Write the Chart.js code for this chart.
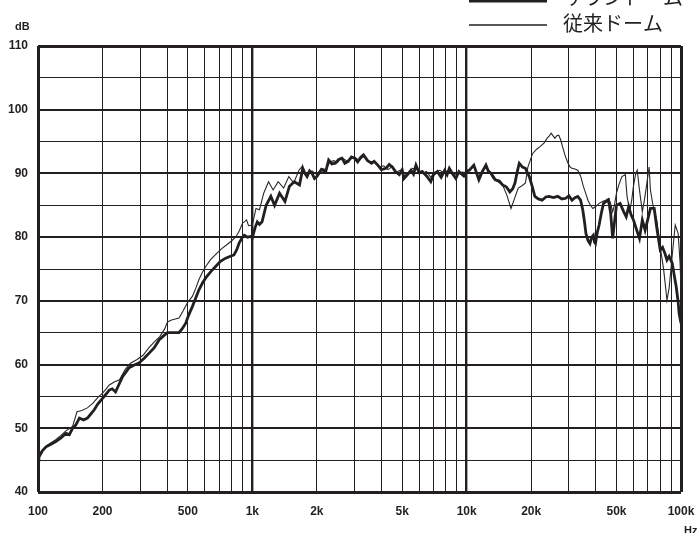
<!DOCTYPE html>
<html>
<head>
<meta charset="utf-8">
<script src="https://cdn.jsdelivr.net/npm/chart.js@4.4.1/dist/chart.umd.min.js"></script>
<style>
  html, body { margin: 0; padding: 0; background: #fff; }
  #wrap { width: 699px; height: 533px; position: relative; }
</style>
</head>
<body>
<div id="wrap"><canvas id="responseChart"></canvas></div>
<script>
// series names
const seriesNames = ['サウンドーム', '従来ドーム'];

// thick curve
const domeFreq = [100, 101, 105, 109, 115, 121, 128, 135, 140, 145, 150, 156, 163, 170, 176, 183, 190, 200, 207, 215, 222, 230, 238, 248, 257, 266, 280, 297, 313, 330, 348, 368, 385, 402, 430, 455, 470, 489, 505, 525, 545, 563, 585, 606, 640, 674, 710, 751, 790, 821, 845, 869, 900, 918, 950, 980, 1000, 1030, 1055, 1080, 1110, 1160, 1220, 1270, 1340, 1420, 1490, 1570, 1660, 1720, 1760, 1800, 1850, 1900, 1950, 2000, 2100, 2200, 2270, 2350, 2440, 2530, 2620, 2700, 2800, 2900, 3000, 3100, 3200, 3300, 3450, 3600, 3700, 3850, 4000, 4200, 4350, 4500, 4650, 4850, 5000, 5100, 5300, 5500, 5650, 5800, 6000, 6200, 6500, 6800, 7000, 7300, 7600, 7900, 8100, 8300, 8600, 8900, 9200, 9400, 9700, 10000, 10300, 10800, 11400, 11800, 12300, 12600, 13000, 13600, 14200, 14700, 15300, 15900, 16400, 16800, 17200, 17600, 18200, 18800, 19600, 20200, 20800, 21600, 22500, 23400, 24200, 25400, 26600, 27800, 29000, 30000, 31000, 32000, 33000, 34000, 34800, 35500, 36000, 36800, 37600, 38300, 39000, 39500, 39900, 40700, 41500, 42500, 43500, 44800, 45900, 47000, 48000, 49000, 50000, 52000, 54000, 55500, 57000, 58500, 60000, 62000, 64000, 66000, 68000, 70000, 72000, 75000, 77000, 80000, 82000, 84000, 86000, 88000, 91000, 93000, 95000, 97000, 98000, 100000];
const domeDb = [45.0, 45.5, 46.5, 47.1, 47.5, 47.9, 48.5, 49.2, 49.0, 50.0, 50.5, 51.6, 51.3, 51.6, 52.2, 52.9, 53.8, 54.7, 55.3, 56.0, 56.2, 55.7, 56.8, 58.1, 58.8, 59.5, 59.9, 60.3, 61.0, 61.8, 62.6, 63.9, 64.5, 65.0, 65.0, 65.0, 65.6, 66.5, 67.8, 69.1, 70.5, 71.7, 72.8, 73.6, 74.6, 75.4, 76.2, 76.7, 77.0, 77.2, 78.0, 79.1, 80.0, 80.3, 80.0, 80.1, 79.9, 81.5, 82.4, 82.0, 82.4, 85.0, 86.4, 85.0, 86.9, 85.6, 88.0, 88.7, 88.2, 90.8, 90.0, 89.5, 90.4, 90.0, 89.2, 89.5, 90.6, 90.3, 92.1, 91.5, 91.6, 92.2, 92.4, 91.6, 91.9, 92.6, 92.4, 91.8, 92.5, 92.9, 92.0, 91.6, 91.9, 91.3, 90.6, 90.8, 91.4, 91.0, 90.3, 89.8, 90.6, 89.2, 89.8, 90.5, 89.9, 91.3, 90.1, 90.3, 89.6, 88.7, 89.8, 90.3, 89.4, 90.5, 89.8, 90.8, 89.9, 89.2, 90.3, 90.0, 89.6, 90.4, 90.5, 91.3, 89.0, 90.2, 91.3, 90.4, 90.0, 89.0, 88.8, 88.2, 87.9, 87.1, 87.6, 88.5, 90.2, 91.6, 91.0, 90.8, 89.5, 88.0, 86.4, 86.0, 85.8, 86.3, 86.4, 86.2, 86.4, 86.0, 86.1, 86.5, 85.8, 86.2, 86.4, 85.8, 84.3, 82.3, 80.6, 79.5, 79.0, 80.0, 80.3, 79.2, 79.0, 80.8, 81.9, 83.8, 85.3, 85.6, 85.8, 83.7, 79.8, 82.5, 85.0, 85.3, 84.0, 83.2, 84.8, 83.5, 82.7, 81.2, 79.8, 82.7, 81.1, 82.8, 84.5, 84.5, 81.6, 78.0, 78.4, 77.5, 76.4, 77.0, 75.9, 74.0, 72.2, 69.8, 68.0, 66.5];

// thin curve
const convFreq = [100, 103, 110, 121, 128, 135, 145, 152, 160, 170, 180, 190, 200, 208, 215, 228, 240, 255, 270, 290, 310, 330, 350, 370, 390, 402, 420, 455, 475, 500, 525, 545, 563, 585, 606, 640, 684, 720, 760, 800, 840, 870, 900, 918, 940, 960, 1000, 1040, 1080, 1130, 1190, 1250, 1320, 1400, 1480, 1560, 1650, 1700, 1750, 1800, 1900, 2000, 2100, 2200, 2300, 2400, 2500, 2600, 2750, 2900, 3000, 3150, 3300, 3500, 3700, 3900, 4100, 4300, 4500, 4700, 4900, 5100, 5300, 5600, 5900, 6200, 6500, 6800, 7100, 7500, 7900, 8300, 8700, 9100, 9500, 10000, 10400, 10800, 11300, 11800, 12300, 12800, 13300, 14000, 14700, 15400, 16100, 16700, 17400, 18200, 18800, 19300, 20300, 21200, 22000, 23000, 23700, 24300, 24800, 25300, 25800, 26300, 26900, 27500, 28000, 28800, 29700, 30400, 31000, 32000, 33000, 34000, 35000, 36000, 36800, 37800, 38800, 40000, 41500, 43000, 44500, 46000, 47000, 48000, 49000, 50000, 51500, 53000, 55000, 56000, 57000, 58000, 59000, 60000, 61500, 62500, 64000, 66000, 67500, 69000, 71000, 72000, 74000, 75000, 77000, 80000, 83000, 85000, 86000, 88000, 90000, 92000, 94000, 97000, 99000, 100000];
const convDb = [46.0, 46.3, 47.3, 48.2, 48.9, 49.6, 50.3, 52.6, 52.8, 53.2, 53.9, 54.8, 55.5, 56.2, 56.8, 57.3, 57.6, 59.2, 60.2, 60.8, 61.5, 62.7, 63.6, 64.4, 65.6, 66.7, 67.0, 67.3, 68.4, 69.8, 70.7, 72.0, 73.3, 74.5, 75.4, 76.5, 77.5, 78.2, 78.8, 79.4, 80.1, 81.0, 82.2, 82.4, 82.7, 81.8, 81.9, 84.5, 84.3, 86.9, 88.7, 87.4, 88.7, 87.7, 89.5, 88.5, 90.5, 91.0, 90.2, 89.8, 90.4, 89.8, 90.8, 90.6, 91.8, 92.0, 91.7, 92.5, 92.0, 92.3, 92.6, 92.0, 92.7, 91.9, 91.8, 91.0, 91.2, 90.6, 91.1, 90.2, 90.5, 89.6, 90.0, 90.8, 90.6, 90.0, 90.3, 89.4, 90.2, 90.5, 90.0, 90.6, 89.8, 89.8, 90.2, 90.1, 90.6, 91.3, 89.3, 90.4, 91.0, 90.2, 89.2, 88.7, 88.2, 86.6, 84.5, 86.0, 87.7, 88.1, 88.5, 91.0, 93.1, 93.8, 94.2, 94.8, 95.5, 95.9, 96.3, 95.9, 95.5, 95.9, 96.0, 95.2, 94.2, 92.8, 91.6, 91.0, 90.8, 90.7, 90.5, 89.6, 88.0, 86.8, 85.8, 85.0, 84.5, 84.8, 85.3, 85.6, 85.8, 86.1, 85.2, 84.0, 85.2, 86.9, 88.4, 89.5, 89.8, 86.4, 85.0, 84.5, 86.0, 88.0, 90.0, 90.5, 87.4, 84.0, 85.8, 88.0, 91.0, 87.4, 85.0, 84.3, 82.7, 78.5, 74.9, 71.7, 70.1, 72.0, 75.4, 78.8, 81.9, 80.6, 76.0, 72.0];

// axis ticks
const freqGrid = [100, 200, 300, 400, 500, 600, 700, 800, 900, 1000, 2000, 3000, 4000, 5000, 6000, 7000, 8000, 9000, 10000, 20000, 30000, 40000, 50000, 60000, 70000, 80000, 90000, 100000];
const freqLabels = { 100: '100', 200: '200', 500: '500', 1000: '1k', 2000: '2k', 5000: '5k', 10000: '10k', 20000: '20k', 50000: '50k', 100000: '100k' };
const dbGrid = [40, 45, 50, 55, 60, 65, 70, 75, 80, 85, 90, 95, 100, 105, 110];

const toPoints = (xs, ys) => xs.map((x, i) => ({ x: x, y: ys[i] }));

// dB / Hz captions and the legend at the top right
const decorations = {
  id: 'decorations',
  afterDraw(chart) {
    const c = chart.ctx;
    c.save();
    c.fillStyle = '#231f20';
    c.font = 'bold 11px "Liberation Sans", Arial, sans-serif';
    c.textAlign = 'left';
    c.textBaseline = 'middle';
    c.fillText('dB', 15, 27);
    c.fillText('Hz', 684, 531);

    c.strokeStyle = '#231f20';
    c.lineWidth = 3;
    c.beginPath(); c.moveTo(469, 1); c.lineTo(547, 1); c.stroke();
    c.lineWidth = 1.3;
    c.beginPath(); c.moveTo(469, 25); c.lineTo(547, 25); c.stroke();

    c.font = '20px "Noto Sans CJK JP", sans-serif';
    c.fillText(seriesNames[0], 563, -3);
    c.fillText(seriesNames[1], 563, 23);
    c.restore();
  }
};

document.addEventListener('DOMContentLoaded', () => {
  const ctx = document.getElementById('responseChart').getContext('2d');
  try {
    new Chart(ctx, {
      type: 'line',
      data: {
        datasets: [{
          label: seriesNames[0],
          data: toPoints(domeFreq, domeDb),
          borderColor: '#231f20',
          borderWidth: 2.8,
          pointRadius: 0,
          tension: 0
        }, {
          label: seriesNames[1],
          data: toPoints(convFreq, convDb),
          borderColor: '#2b2728',
          borderWidth: 1.1,
          pointRadius: 0,
          tension: 0
        }]
      },
      options: {
        responsive: true,
        maintainAspectRatio: false,
        animation: false,
        layout: { autoPadding: false, padding: { top: 46, right: 18, left: 1, bottom: 0 } },
        plugins: { legend: { display: false }, tooltip: { enabled: false } },
        scales: {
          x: {
            type: 'logarithmic',
            min: 100,
            max: 100000,
            afterBuildTicks: (scale) => { scale.ticks = freqGrid.map(v => ({ value: v })); },
            afterFit: (scale) => {
              scale.height = 41;
              scale.paddingLeft = 0;
              scale.paddingRight = 0;
            },
            border: { display: false },
            grid: {
              color: '#231f20',
              drawTicks: false,
              lineWidth: (c) => {
                const v = c.tick.value;
                if (v === 100 || v === 100000) return 3;
                return (v === 1000 || v === 10000) ? 2.4 : 1;
              }
            },
            ticks: {
              autoSkip: false,
              maxRotation: 0,
              padding: 12,
              color: '#231f20',
              font: { family: '"Liberation Sans", Arial, sans-serif', size: 12, weight: 'bold' },
              callback: (v) => freqLabels[v] || ''
            }
          },
          y: {
            min: 40,
            max: 110,
            afterBuildTicks: (scale) => { scale.ticks = dbGrid.map(v => ({ value: v })); },
            afterFit: (scale) => {
              scale.width = 37;
              scale.paddingTop = 0;
              scale.paddingBottom = 0;
            },
            border: { display: false },
            grid: {
              color: '#231f20',
              drawTicks: false,
              lineWidth: (c) => {
                const v = c.tick.value;
                if (v === 40 || v === 110) return 3;
                return v % 10 === 0 ? 2 : 1;
              }
            },
            ticks: {
              autoSkip: false,
              padding: 10,
              color: '#231f20',
              font: { family: '"Liberation Sans", Arial, sans-serif', size: 12, weight: 'bold' },
              callback: (v) => (v % 10 === 0 ? String(v) : '')
            }
          }
        }
      },
      plugins: [decorations]
    });
  } catch (error) {
    console.error("Chart.js Error: ", error);
  }
});
</script>
</body>
</html>
